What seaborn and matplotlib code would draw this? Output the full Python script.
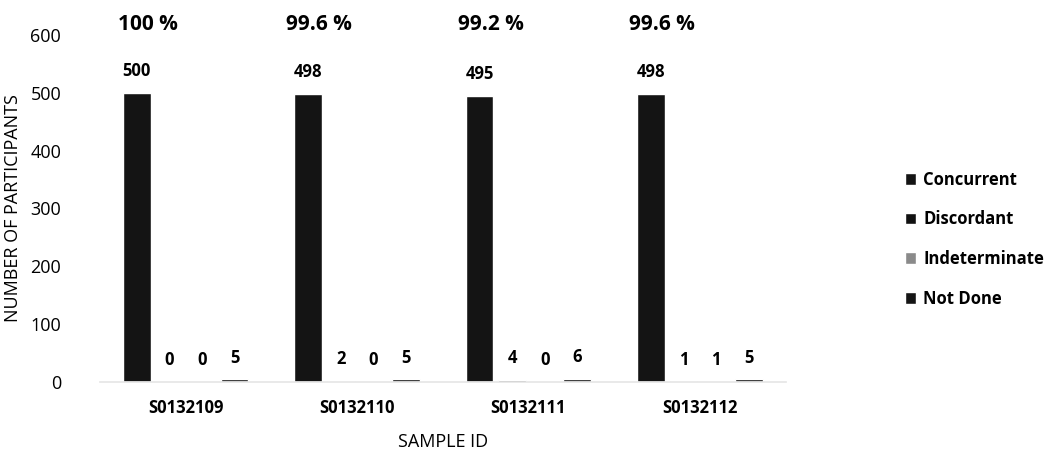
import pandas as pd
import seaborn as sns
import matplotlib.pyplot as plt

# Data
samples = ['S0132109', 'S0132110', 'S0132111', 'S0132112']
categories = ['Concurrent', 'Discordant', 'Indeterminate', 'Not Done']
concurrent = [500, 498, 495, 498]
discordant = [0, 2, 4, 1]
indeterminate = [0, 0, 0, 1]
not_done = [5, 5, 6, 5]
percent_labels = ['100 %', '99.6 %', '99.2 %', '99.6 %']

rows = []
for i, s in enumerate(samples):
    for cat, vals in zip(categories, [concurrent, discordant, indeterminate, not_done]):
        rows.append({'Sample': s, 'Result': cat, 'Count': vals[i]})
df = pd.DataFrame(rows)

sns.set_theme(style="white")
plt.rcParams['font.family'] = ['Open Sans', 'DejaVu Sans']
plt.rcParams['text.color'] = 'black'
plt.rcParams['axes.labelcolor'] = 'black'
plt.rcParams['xtick.color'] = 'black'
plt.rcParams['ytick.color'] = 'black'

palette = {'Concurrent': '#141414', 'Discordant': '#111111',
           'Indeterminate': '#8a8a8a', 'Not Done': '#151515'}

fig = plt.figure(figsize=(10.53, 4.58), dpi=100)
ax = fig.add_axes([0.095, 0.166, 0.651, 0.7576])

sns.barplot(data=df, x='Sample', y='Count', hue='Result', palette=palette,
            width=0.76, gap=0.15, ax=ax, legend=True)

for cont in ax.containers:
    ax.bar_label(cont, fontsize=12, fontweight='bold', padding=9)

ax.set_ylim(0, 600)
ax.set_yticks(range(0, 601, 100))
ax.tick_params(axis='y', labelsize=13, length=0, pad=28)
ax.tick_params(axis='x', labelsize=12, length=0, pad=12)
for lbl in ax.get_xticklabels():
    lbl.set_fontweight('bold')

ax.set_xlabel('SAMPLE ID', fontsize=13, labelpad=12)
ax.set_ylabel('NUMBER OF PARTICIPANTS', fontsize=13, labelpad=6)

# Concordance percentages above each group
for i, p in enumerate(percent_labels):
    ax.text(i - 0.22, 618, p, ha='center', va='center', fontsize=15,
            fontweight='bold', clip_on=False)

for side in ['top', 'right', 'left']:
    ax.spines[side].set_visible(False)
ax.spines['bottom'].set_color('#e6e6e6')

handles, labels = ax.get_legend_handles_labels()
ax.legend(handles, labels, loc='upper left', bbox_to_anchor=(0.845, 0.66),
          bbox_transform=fig.transFigure, frameon=False,
          prop={'weight': 'bold', 'size': 12}, handlelength=0.7,
          handleheight=0.7, handletextpad=0.4, labelspacing=1.3)

plt.savefig('out.png', dpi=100)
